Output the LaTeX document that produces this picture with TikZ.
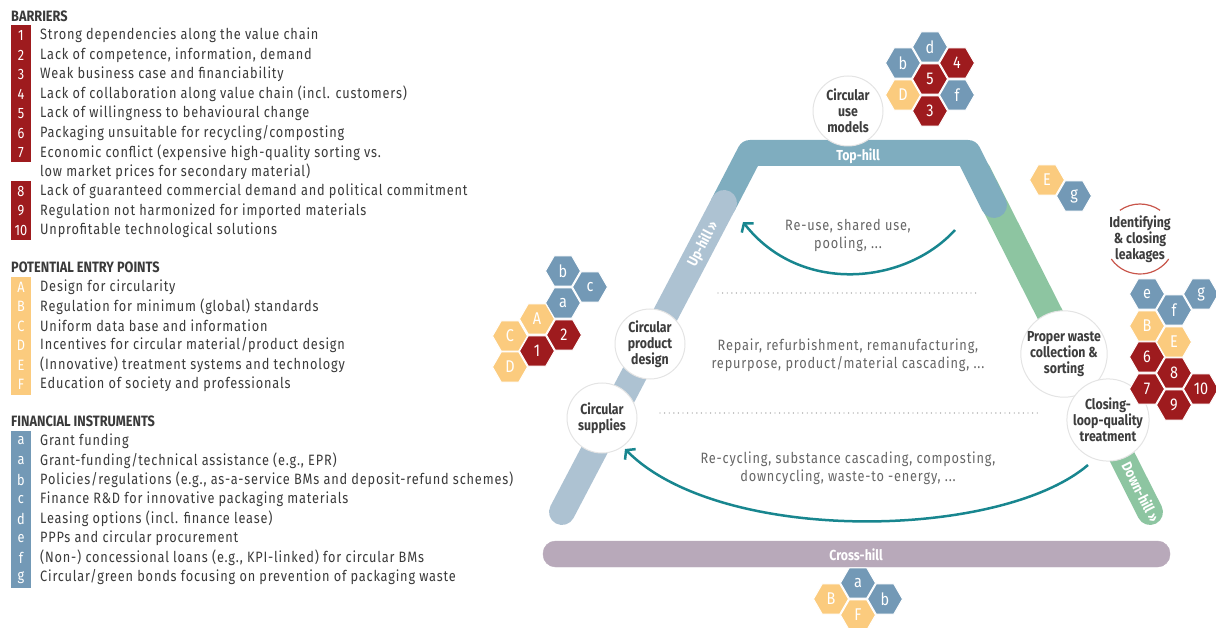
\documentclass[tikz,border=0pt]{standalone}
\usepackage{fontspec}
\setmainfont{Fira Sans}[FakeStretch=0.85]
\newfontfamily\legfam{Fira Sans}[FakeStretch=0.85, LetterSpace=5.5]
\usetikzlibrary{shapes.geometric,arrows.meta}
\definecolor{barred}{HTML}{9E1B1E}
\definecolor{entryyel}{HTML}{FBCB7E}
\definecolor{finblue}{HTML}{7399B6}
\definecolor{uphill}{HTML}{ADC2D2}
\definecolor{tophill}{HTML}{7FADBF}
\definecolor{downhill}{HTML}{8DC5A1}
\definecolor{crosshill}{HTML}{B8A9BA}
\definecolor{flowteal}{HTML}{18868F}
\definecolor{legtext}{HTML}{3A3A3A}
\definecolor{headtext}{HTML}{3A3A3A}
\definecolor{midgray}{HTML}{666666}
\definecolor{circborder}{HTML}{E4E4E4}
\definecolor{stagetext}{HTML}{3D3D3D}
\definecolor{leakred}{HTML}{C8554A}
\definecolor{dotgray}{HTML}{9A9A9A}
\newcommand{\legfont}{\legfam\fontsize{15}{17}\selectfont}
\newcommand{\hexfont}{\fontsize{17}{19}\selectfont}
\newcommand{\stagefont}{\fontsize{14.5}{16}\selectfont\bfseries}
\newcommand{\barfont}{\fontsize{14.5}{16}\selectfont\bfseries}
\tikzset{
 leg/.style={anchor=west, inner sep=0pt, text=legtext, font=\legfont},
 head/.style={anchor=west, inner sep=0pt, text=headtext, font=\fontsize{15}{17}\selectfont\bfseries},
 num/.style={inner sep=0pt, text=white, font=\fontsize{15}{17}\selectfont},
 hexa/.style={regular polygon, regular polygon sides=6, minimum size=35pt, inner sep=0pt, draw=white, line width=1pt, text=white, font=\hexfont},
 hred/.style={hexa, fill=barred},
 hyel/.style={hexa, fill=entryyel},
 hblu/.style={hexa, fill=finblue},
 stage/.style={circle, minimum size=70pt, inner sep=0pt, fill=white, draw=circborder, line width=1pt, align=center, font=\stagefont, text=stagetext},
 bar/.style={line width=26pt, line cap=round, line join=round},
 barlabel/.style={text=white, font=\barfont, inner sep=0pt},
 flow/.style={draw=flowteal, line width=2.5pt, -{Straight Barb[length=6pt,width=15pt]}},
 midtext/.style={align=center, text=midgray, font=\legfont, inner sep=0pt},
 dots/.style={draw=dotgray, line width=1.4pt, line cap=round, dash pattern=on 0pt off 4.6pt},
}
\begin{document}
\begin{tikzpicture}[x=1pt,y=-1pt]
\path[use as bounding box] (0,0) rectangle (1216,628);
% ---------- legend: barriers
\node[head] (hb) at (11,16) {BARRIERS};
\fill[barred] (11,25) rectangle (31,162);
\fill[barred] (11,181) rectangle (31,240);
\foreach \n/\y/\t in {1/35.5/{Strong dependencies along the value chain},
 2/55/{Lack of competence, information, demand},
 3/74.5/{Weak business case and financiability},
 4/94/{Lack of collaboration along value chain (incl. customers)},
 5/113.5/{Lack of willingness to behavioural change},
 6/133/{Packaging unsuitable for recycling/composting},
 7/152.5/{Economic conflict (expensive high-quality sorting vs.},
 8/191.5/{Lack of guaranteed commercial demand and political commitment},
 9/211/{Regulation not harmonized for imported materials},
 10/230.5/{Unprofitable technological solutions}}{
 \node[num] (bn\n) at (21,\y) {\n};
 \node[leg] (bt\n) at (40,\y) {\t};
}
\node[leg] (bt7b) at (40,172) {low market prices for secondary material)};
% ---------- legend: entry points
\node[head] (he) at (11,267) {POTENTIAL ENTRY POINTS};
\fill[entryyel] (11,277) rectangle (31,395);
\foreach \n/\y/\t in {A/287/{Design for circularity},
 B/306.5/{Regulation for minimum (global) standards},
 C/326/{Uniform data base and information},
 D/345.5/{Incentives for circular material/product design},
 E/365/{(Innovative) treatment systems and technology},
 F/384.5/{Education of society and professionals}}{
 \node[num] (en\n) at (21,\y) {\n};
 \node[leg] (et\n) at (40,\y) {\t};
}
% ---------- legend: financial instruments
\node[head] (hf) at (11,421) {FINANCIAL INSTRUMENTS};
\fill[finblue] (11,431) rectangle (31,588);
\foreach \k/\n/\y/\t in {1/a/441/{Grant funding},
 2/a/460.5/{Grant-funding/technical assistance (e.g., EPR)},
 3/b/480/{Policies/regulations (e.g., as-a-service BMs and deposit-refund schemes)},
 4/c/499.5/{Finance R\&D for innovative packaging materials},
 5/d/519/{Leasing options (incl. finance lease)},
 6/e/538.5/{PPPs and circular procurement},
 7/f/558/{(Non-) concessional loans (e.g., KPI-linked) for circular BMs},
 8/g/577.5/{Circular/green bonds focusing on prevention of packaging waste}}{
 \node[num] (fn\k) at (21,\y) {\n};
 \node[leg] (ft\k) at (40,\y) {\t};
}
% ---------- hill bars
\draw[bar, downhill] (978,172) -- (1150,512);
\draw[bar, tophill] (723,205) -- (750,153) -- (968,153) -- (994,205);
\draw[bar, uphill] (562,512) -- (724,203);
\draw[crosshill, fill=crosshill, rounded corners=12.5pt] (543,541) rectangle (1170,567);
\node[barlabel] (lcross) at (856,555) {Cross-hill};
\node[barlabel] (ltop) at (858,156) {Top-hill};
\node[barlabel, rotate=62.4] (lup) at (703,244) {Up-hill »};
\node[barlabel, rotate=-63.1] (ldown) at (1141,492) {Down-hill »};
% ---------- middle texts and dotted separators
\node[midtext] (t1) at (848,235) {Re-use, shared use,\\[1pt]pooling, ...};
\node[midtext] (t2) at (848,355) {Repair, refurbishment, remanufacturing,\\[1pt]repurpose, product/material cascading, ...};
\node[midtext] (t3) at (848,468) {Re-cycling, substance cascading, composting,\\[1pt]downcycling, waste-to -energy, ...};
\coordinate (d1a) at (718,293); \coordinate (d1b) at (980,293);
\coordinate (d2a) at (660,413); \coordinate (d2b) at (1040,413);
\draw[dots] (d1a) -- (d1b);
\draw[dots] (d2a) -- (d2b);
% ---------- flow arrows
\coordinate (f1s) at (955,230); \coordinate (f1e) at (743,222);
\coordinate (f2s) at (1088,465); \coordinate (f2e) at (625,449);
\draw[flow] (f1s) .. controls (905,285) and (800,295) .. (f1e);
\draw[flow] (f2s) .. controls (1000,540) and (720,545) .. (f2e);
% ---------- stage circles
\node[stage] (cuse) at (848,111) {Circular\\use\\models};
\node[stage] (cdesign) at (650,344) {Circular\\product\\design};
\node[stage] (csupply) at (602,418) {Circular\\supplies};
\node[stage] (cwaste) at (1064,354) {Proper waste\\collection \&\\sorting};
\node[stage] (cloop) at (1108,420) {Closing-\\loop-quality\\treatment};
% ---------- leakages
\node[align=center, font=\stagefont, text=stagetext, inner sep=0pt] (leak) at (1140,239) {Identifying\\\& closing\\leakages};
\draw[leakred, line width=1.2pt] (leak.center) ++(55:35pt) arc[start angle=55, end angle=125, radius=35pt];
\draw[leakred, line width=1.2pt] (leak.center) ++(215:35pt) arc[start angle=215, end angle=325, radius=35pt];
% ---------- hexagon clusters
% top
\node[hblu] (tdd) at (930,47) {d};
\node[hblu] (tbb) at (903,63) {b};
\node[hred] (t44) at (957,63) {4};
\node[hred] (t55) at (930,79) {5};
\node[hyel] (tDD) at (903,95) {D};
\node[hblu] (tff) at (957,95) {f};
\node[hred] (t33) at (930,111) {3};
% left
\node[hblu] (lbb) at (563,271) {b};
\node[hblu] (lcc) at (590,287) {c};
\node[hblu] (laa) at (563,303) {a};
\node[hyel] (lAA) at (537,319) {A};
\node[hred] (l22) at (564,335) {2};
\node[hyel] (lCC) at (510,336) {C};
\node[hred] (l11) at (537,351) {1};
\node[hyel] (lDD) at (510,367) {D};
% E g
\node[hyel] (mEE) at (1047,180) {E};
\node[hblu] (mgg) at (1074,196) {g};
% right
\node[hblu] (ree) at (1147,294) {e};
\node[hblu] (rff) at (1174,310) {f};
\node[hblu] (rgg) at (1201,294) {g};
\node[hyel] (rBB) at (1147,326) {B};
\node[hyel] (rEE) at (1174,342) {E};
\node[hred] (r66) at (1147,357) {6};
\node[hred] (r88) at (1174,373) {8};
\node[hred] (r77) at (1147,389) {7};
\node[hred] (r10) at (1201,389) {10};
\node[hred] (r99) at (1174,405) {9};
% bottom
\node[hblu] (baa) at (858,583) {a};
\node[hyel] (bBB) at (831,599) {B};
\node[hblu] (bbb) at (885,599) {b};
\node[hyel] (bFF) at (858,615) {F};
\end{tikzpicture}
\end{document}
